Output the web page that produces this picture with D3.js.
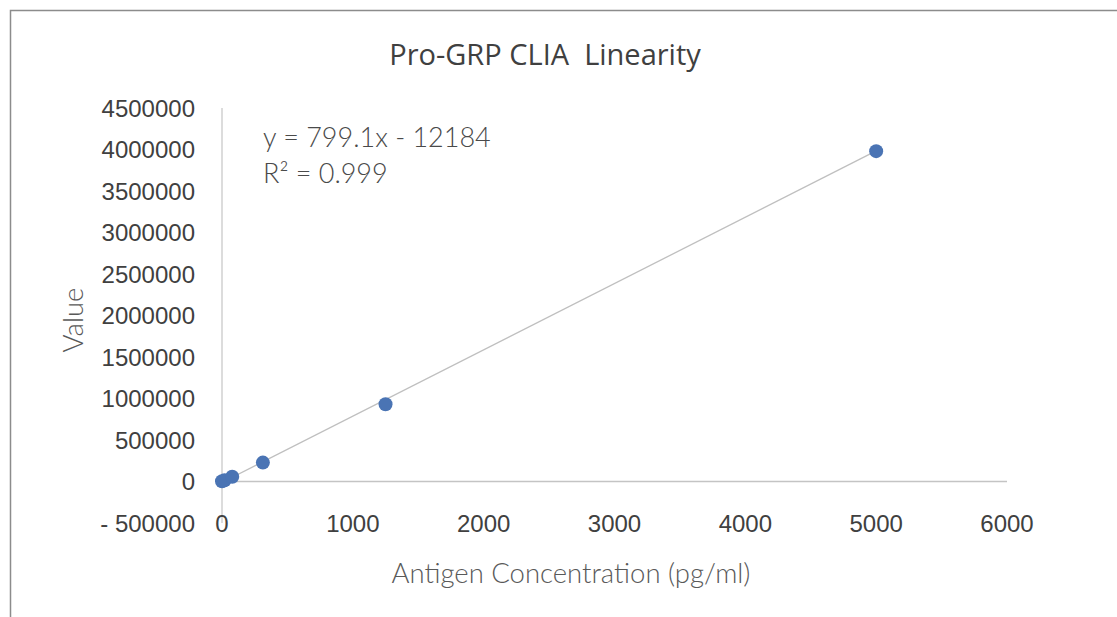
<!DOCTYPE html>
<html>
<head>
<meta charset="utf-8">
<script src="https://cdn.jsdelivr.net/npm/d3@7"></script>
<style>
    body { margin: 0; background: #fff; }
</style>
</head>
<body>
<svg id="chart" width="1117" height="617"></svg>
<script>
// antigen concentration (pg/ml) and measured signal
const concentrations = [0, 19.5, 78.1, 312.5, 1250, 5000];
const signals = [3000, 14000, 58000, 228000, 930000, 3980000];

const xTicks = [0, 1000, 2000, 3000, 4000, 5000, 6000];
const yTicks = [-500000, 0, 500000, 1000000, 1500000, 2000000, 2500000, 3000000, 3500000, 4000000, 4500000];
const yTickLabels = ['- 500000', '0', '500000', '1000000', '1500000', '2000000', '2500000', '3000000', '3500000', '4000000', '4500000'];

const slope = 799.1;
const intercept = -12184;
const rSquared = 0.999;

const width = 1117;
const height = 617;
const plot = ({top: 108, right: 1007, bottom: 523, left: 222});

const svg = d3.select('#chart');

// outer frame
svg.append('path')
    .attr('d', `M10.5,${height} V10.5 H${width}`)
    .attr('fill', 'none')
    .attr('stroke', '#8c8c8c')
    .attr('stroke-width', 1.5);

const xScale = d3.scaleLinear()
    .domain([0, 6000])
    .range([plot.left, plot.right]);

const yScale = d3.scaleLinear()
    .domain([-500000, 4500000])
    .range([plot.bottom, plot.top]);

const labelFont = '"Liberation Sans", Arial, sans-serif';
const titleFont = '"Lato", "Open Sans", sans-serif';

// y axis line
svg.append('line')
    .attr('x1', xScale(0)).attr('x2', xScale(0))
    .attr('y1', yScale(4500000)).attr('y2', yScale(-500000))
    .attr('stroke', '#d0d0d0')
    .attr('stroke-width', 1.5);

// x axis line at zero
svg.append('line')
    .attr('x1', xScale(0)).attr('x2', xScale(6000))
    .attr('y1', yScale(0)).attr('y2', yScale(0))
    .attr('stroke', '#c4c4c4')
    .attr('stroke-width', 1.5);

// y tick labels
svg.append('g')
    .selectAll('text')
    .data(yTicks)
    .join('text')
    .attr('x', 195)
    .attr('y', d => yScale(d))
    .attr('dy', '0.36em')
    .attr('text-anchor', 'end')
    .attr('font-family', labelFont)
    .attr('font-size', 24)
    .attr('fill', '#404040')
    .text((d, i) => yTickLabels[i]);

// x tick labels, sit at the bottom of the plot area
svg.append('g')
    .selectAll('text')
    .data(xTicks)
    .join('text')
    .attr('x', d => xScale(d))
    .attr('y', yScale(-500000))
    .attr('dy', '0.36em')
    .attr('text-anchor', 'middle')
    .attr('font-family', labelFont)
    .attr('font-size', 24)
    .attr('fill', '#404040')
    .text(d => d);

// linear trendline
const trendX = d3.extent(concentrations);
svg.append('line')
    .attr('x1', xScale(trendX[0]))
    .attr('y1', yScale(slope * trendX[0] + intercept))
    .attr('x2', xScale(trendX[1]))
    .attr('y2', yScale(slope * trendX[1] + intercept))
    .attr('stroke', '#bfbfbf')
    .attr('stroke-width', 1.3);

// points
svg.append('g')
    .selectAll('circle')
    .data(concentrations)
    .join('circle')
    .attr('cx', d => xScale(d))
    .attr('cy', (d, i) => yScale(signals[i]))
    .attr('r', 7)
    .attr('fill', '#4a74b4');

// title
svg.append('text')
    .attr('x', 545)
    .attr('y', 65)
    .attr('text-anchor', 'middle')
    .attr('font-family', '"Open Sans", "Noto Sans", sans-serif')
    .attr('font-size', 29)
    .attr('fill', '#404040')
    .style('white-space', 'pre')
    .text('Pro-GRP CLIA  Linearity');

// axis titles
svg.append('text')
    .attr('x', 571)
    .attr('y', 583)
    .attr('text-anchor', 'middle')
    .attr('font-family', titleFont)
    .attr('font-weight', 300)
    .attr('font-size', 27.5)
    .attr('fill', '#595959')
    .text('Antigen Concentration (pg/ml)');

svg.append('text')
    .attr('transform', 'translate(83, 320) rotate(-90)')
    .attr('text-anchor', 'middle')
    .attr('font-family', titleFont)
    .attr('font-weight', 300)
    .attr('font-size', 27.5)
    .attr('fill', '#595959')
    .text('Value');

// trendline equation
const eq = svg.append('g')
    .attr('font-family', titleFont)
    .attr('font-weight', 300)
    .attr('font-size', 27)
    .attr('fill', '#4a4a4a');

eq.append('text')
    .attr('x', 263)
    .attr('y', 147)
    .text(`y = ${slope}x - ${Math.abs(intercept)}`);

eq.append('text')
    .attr('x', 263)
    .attr('y', 183)
    .text(`R² = ${rSquared}`);
</script>
</body>
</html>
